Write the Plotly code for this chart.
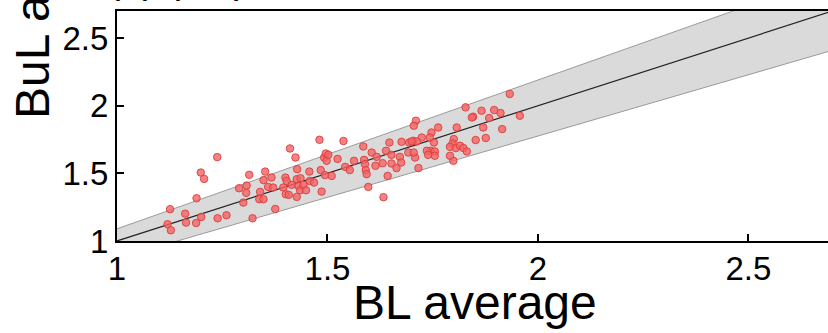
import plotly.graph_objects as go

# BL average (x) and BuL average (y) readings
bl_average = [
    1.126, 1.120, 1.128, 1.162, 1.164, 1.188, 1.189, 1.199, 1.207, 1.200,
    1.238, 1.239, 1.260, 1.290, 1.300, 1.308, 1.307, 1.314, 1.322, 1.338,
    1.340, 1.348, 1.348, 1.352, 1.359, 1.367, 1.371, 1.376, 1.395, 1.400,
    1.403, 1.401, 1.408, 1.411, 1.415, 1.424, 1.427, 1.427, 1.428, 1.431,
    1.436, 1.435, 1.443, 1.449, 1.457, 1.458, 1.468, 1.481, 1.484, 1.486,
    1.492, 1.494, 1.496, 1.498, 1.502, 1.510, 1.524, 1.538, 1.542, 1.553,
    1.563, 1.585, 1.587, 1.589, 1.591, 1.593, 1.597, 1.605, 1.614, 1.617,
    1.633, 1.631, 1.639, 1.643, 1.647, 1.652, 1.652, 1.664, 1.672, 1.676,
    1.675, 1.692, 1.694,
    1.933, 1.957, 1.915, 1.911, 1.896, 1.884, 1.870, 1.876, 1.866, 1.852,
    1.846, 1.843, 1.828, 1.807, 1.800, 1.797, 1.791, 1.799, 1.791, 1.805,
    1.815, 1.823, 1.831, 1.763, 1.753, 1.747, 1.743, 1.745, 1.755, 1.755,
    1.736, 1.739, 1.724, 1.710, 1.705, 1.716, 1.708, 1.705, 1.704, 1.712,
    1.700,
]
bul_average = [
    1.235, 1.124, 1.079, 1.202, 1.136, 1.133, 1.316, 1.506, 1.459, 1.178,
    1.620, 1.168, 1.190, 1.390, 1.284, 1.410, 1.356, 1.489, 1.168, 1.309,
    1.363, 1.450, 1.309, 1.513, 1.400, 1.469, 1.395, 1.237, 1.395, 1.469,
    1.444, 1.346, 1.341, 1.684, 1.415, 1.617, 1.457, 1.326, 1.531, 1.407,
    1.464, 1.375, 1.415, 1.375, 1.513, 1.444, 1.432, 1.748, 1.524, 1.365,
    1.617, 1.487, 1.647, 1.593, 1.637, 1.481, 1.607, 1.739, 1.548, 1.524,
    1.593, 1.699, 1.600, 1.568, 1.524, 1.494, 1.400, 1.654, 1.556, 1.622,
    1.324, 1.575, 1.667, 1.481, 1.728, 1.637, 1.573, 1.539, 1.622, 1.733,
    1.580, 1.654, 1.728,
    2.087, 1.926, 1.827, 1.946, 1.968, 1.909, 1.839, 1.761, 1.963, 1.746,
    1.919, 1.913, 1.988, 1.839, 1.753, 1.721, 1.696, 1.593, 1.630, 1.687,
    1.704, 1.687, 1.662, 1.839, 1.728, 1.802, 1.765, 1.667, 1.662, 1.630,
    1.667, 1.637, 1.765, 1.889, 1.852, 1.539, 1.617, 1.654, 1.741, 1.736,
    1.736,
]

# identity line and agreement band
line_x = [1.0, 2.7]
line_y = [1.0, 2.7]
band_x = [1.0, 2.7]
band_upper = [1.09, 2.96]
band_lower = [0.87, 2.41]

x_ticks = [1, 1.5, 2, 2.5]
y_ticks = [1, 1.5, 2, 2.5]
x_title = "BL average"
y_title = "BuL average"

FONT = "Liberation Sans, Arial, sans-serif"

fig = go.Figure()
fig.add_trace(go.Scatter(x=band_x, y=band_lower, mode="lines",
                         line=dict(color="#9a9a9a", width=1), showlegend=False,
                         hoverinfo="skip"))
fig.add_trace(go.Scatter(x=band_x, y=band_upper, mode="lines", fill="tonexty",
                         fillcolor="#dadada",
                         line=dict(color="#9a9a9a", width=1), showlegend=False,
                         hoverinfo="skip"))
fig.add_trace(go.Scatter(x=line_x, y=line_y, mode="lines",
                         line=dict(color="#222222", width=1.2), showlegend=False))
fig.add_trace(go.Scatter(x=bl_average, y=bul_average, mode="markers",
                         marker=dict(size=7.5, color="rgba(242,100,100,0.8)",
                                     line=dict(color="rgba(222,60,60,0.9)", width=1)),
                         showlegend=False))

axis_common = dict(
    showgrid=False, zeroline=False, showline=True, linecolor="black", linewidth=2,
    ticks="inside", ticklen=7, tickwidth=1.5, tickcolor="black",
    tickfont=dict(family=FONT, size=33, color="black"),
)
fig.update_xaxes(range=[1, 2.689], tickvals=x_ticks, ticklabelstandoff=-3,
                 ticktext=["1", "1.5", "2", "2.5"], mirror=True, **axis_common)
fig.update_yaxes(range=[1, 2.7], tickvals=y_ticks,
                 ticktext=["1", "1.5", "2", "2.5"], **axis_common)

fig.add_annotation(text=x_title, xref="x", yref="paper", x=1.85, y=-0.143,
                   xanchor="center", yanchor="top", showarrow=False,
                   font=dict(family=FONT, size=48, color="black"))
fig.add_annotation(text=y_title, xref="paper", yref="paper", x=0, xshift=-85,
                   y=0.539, yshift=-4, xanchor="center", yanchor="bottom",
                   textangle=-90, showarrow=False,
                   font=dict(family=FONT, size=48, color="black"))
fig.add_annotation(text="(a) (cm)", xref="paper", yref="paper", x=0, xshift=-12,
                   y=1, yshift=8, xanchor="left", yanchor="bottom",
                   showarrow=False, font=dict(family=FONT, size=40, color="black"))

fig.update_layout(width=828, height=333, margin=dict(l=117, r=0, t=11, b=92),
                  plot_bgcolor="white", paper_bgcolor="white")
fig.write_html("out.html")
